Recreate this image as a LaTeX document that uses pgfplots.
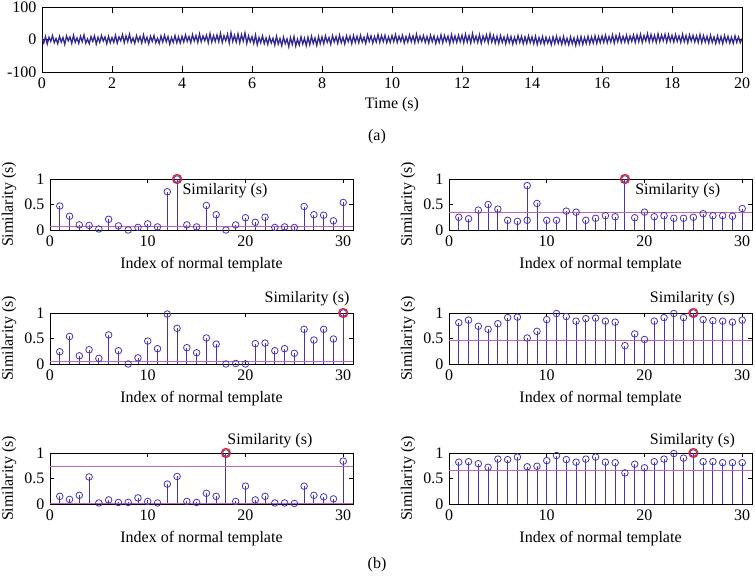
\documentclass[border=0pt]{standalone}
\usepackage{pgfplots}
\pgfplotsset{compat=1.18}
\usepackage{pgfplotstable}
\usepackage{fontspec}
\setmainfont{Liberation Serif}

\definecolor{sig}{RGB}{50,40,145}
\definecolor{stemc}{RGB}{72,52,178}
\definecolor{thr}{RGB}{192,100,192}
\definecolor{maxc}{RGB}{215,40,45}

% similarity of each normal template, one column per panel
% a,b: first row; c,d: second row; e,f: third row
\pgfplotstableread{
i a b c d e f
1 0.47 0.25 0.24 0.81 0.15 0.82
2 0.27 0.22 0.54 0.86 0.09 0.83
3 0.10 0.39 0.16 0.74 0.17 0.79
4 0.09 0.50 0.28 0.68 0.53 0.72
5 0.02 0.41 0.11 0.79 0.02 0.88
6 0.21 0.19 0.57 0.91 0.08 0.87
7 0.08 0.17 0.26 0.92 0.03 0.92
8 0.00 0.87 0.00 0.51 0.03 0.73
9 0.05 0.52 0.12 0.64 0.12 0.74
10 0.12 0.19 0.45 0.87 0.05 0.85
11 0.06 0.19 0.30 0.99 0.02 0.95
12 0.75 0.37 0.98 0.93 0.39 0.87
13 1.00 0.35 0.70 0.84 0.54 0.82
14 0.10 0.19 0.32 0.89 0.05 0.88
15 0.06 0.23 0.22 0.90 0.03 0.92
16 0.48 0.28 0.51 0.84 0.21 0.82
17 0.30 0.26 0.39 0.82 0.15 0.81
18 0.00 1.00 0.00 0.36 1.00 0.61
19 0.10 0.24 0.01 0.59 0.05 0.78
20 0.24 0.35 0.00 0.48 0.35 0.71
21 0.15 0.26 0.40 0.84 0.08 0.83
22 0.25 0.28 0.41 0.91 0.15 0.88
23 0.05 0.23 0.26 0.99 0.02 0.99
24 0.06 0.23 0.30 0.91 0.02 0.90
25 0.05 0.25 0.21 1.00 0.01 1.00
26 0.46 0.32 0.68 0.87 0.35 0.83
27 0.30 0.28 0.47 0.85 0.17 0.83
28 0.29 0.28 0.68 0.84 0.14 0.81
29 0.18 0.27 0.49 0.82 0.10 0.81
30 0.54 0.42 1.00 0.86 0.84 0.81
}\simtab

\pgfplotsset{
  mat/.style={
    scale only axis,
    tick align=inside,
    major tick length=4pt,
    axis line style={line width=0.6pt},
    tick style={line width=0.5pt, black},
    clip=false,
    /pgf/number format/assume math mode=true,
    label style={font=\fontsize{16}{19}\selectfont},
    tick label style={font=\fontsize{16}{19}\selectfont},
  },
  stemax/.style={
    mat,
    width=303pt, height=51pt,
    xmin=0, xmax=31, ymin=0, ymax=1,
    xtick={0,10,20,30}, ytick={0,0.5,1},
    xlabel={Index of normal template},
    ylabel={Similarity (s)},
    xlabel style={at={(axis description cs:0.5,-0.67)}, anchor=center},
    ylabel style={at={(axis description cs:-0.135,0.5)}, anchor=center},
  },
  stems/.style={
    draw=stemc, ycomb, line width=0.9pt,
    mark=o, mark size=3.3pt, mark options={draw=stemc, line width=0.8pt},
  },
  best/.style={
    only marks, mark=o, mark size=4.5pt,
    mark options={draw=maxc, line width=1.3pt},
  },
  thrline/.style={draw=thr, line width=0.9pt},
}

\begin{document}
\fontsize{16}{19}\selectfont
\begin{tikzpicture}
\useasboundingbox (0,0) rectangle (755pt,581pt);

% (a) signal
\begin{axis}[
  mat,
  at={(42pt,509pt)}, anchor=south west,
  width=700pt, height=65pt,
  xmin=0, xmax=20, ymin=-100, ymax=100,
  xtick={0,2,...,20}, ytick={-100,0,100},
  major tick length=6pt,
  xlabel={Time (s)},
  xlabel style={at={(axis description cs:0.5,-0.5)}, anchor=center},
  clip=true,
]
\addplot[sig, line width=1.3pt] coordinates {
(0,4)(0.05,-11)(0.1,9)(0.15,-14)(0.2,7)(0.25,-6)(0.3,12)(0.35,-10)(0.4,3)(0.45,-13)(0.5,10)(0.55,-8)(0.6,6)(0.65,-15)(0.7,11)(0.75,-4)(0.8,8)(0.85,-12)(0.9,13)(0.95,-9)
(1,5)(1.05,-12)(1.1,10)(1.15,-7)(1.2,14)(1.25,-11)(1.3,2)(1.35,-13)(1.4,9)(1.45,-6)(1.5,11)(1.55,-14)(1.6,7)(1.65,-9)(1.7,12)(1.75,-5)(1.8,8)(1.85,-13)(1.9,10)(1.95,-10)
(2,6)(2.05,-9)(2.1,13)(2.15,-11)(2.2,8)(2.25,-4)(2.3,15)(2.35,-10)(2.4,11)(2.45,-7)(2.5,16)(2.55,-9)(2.6,5)(2.65,-12)(2.7,12)(2.75,-6)(2.8,9)(2.85,-11)(2.9,14)(2.95,-8)
(3,7)(3.05,-13)(3.1,10)(3.15,-6)(3.2,12)(3.25,-10)(3.3,4)(3.35,-12)(3.4,11)(3.45,-8)(3.5,13)(3.55,-7)(3.6,9)(3.65,-14)(3.7,6)(3.75,-9)(3.8,12)(3.85,-10)(3.9,8)(3.95,-11)
(4,10)(4.05,-8)(4.1,14)(4.15,-6)(4.2,9)(4.25,-10)(4.3,15)(4.35,-5)(4.4,12)(4.45,-9)(4.5,17)(4.55,-7)(4.6,11)(4.65,-4)(4.7,13)(4.75,-10)(4.8,18)(4.85,-8)(4.9,12)(4.95,-6)
(5,14)(5.05,-7)(5.1,19)(5.15,-9)(5.2,12)(5.25,-4)(5.3,16)(5.35,-11)(5.4,21)(5.45,-6)(5.5,13)(5.55,-8)(5.6,17)(5.65,-10)(5.7,15)(5.75,-5)(5.8,20)(5.85,-12)(5.9,11)(5.95,-7)
(6,9)(6.05,-12)(6.1,14)(6.15,-16)(6.2,6)(6.25,-10)(6.3,11)(6.35,-13)(6.4,5)(6.45,-15)(6.5,8)(6.55,-11)(6.6,4)(6.65,-17)(6.7,10)(6.75,-14)(6.8,3)(6.85,-19)(6.9,7)(6.95,-13)
(7,2)(7.05,-22)(7.1,6)(7.15,-15)(7.2,9)(7.25,-20)(7.3,1)(7.35,-17)(7.4,8)(7.45,-14)(7.5,4)(7.55,-19)(7.6,7)(7.65,-16)(7.7,10)(7.75,-12)(7.8,5)(7.85,-18)(7.9,9)(7.95,-13)
(8,8)(8.05,-13)(8.1,11)(8.15,-9)(8.2,6)(8.25,-15)(8.3,12)(8.35,-8)(8.4,9)(8.45,-12)(8.5,13)(8.55,-10)(8.6,7)(8.65,-14)(8.7,11)(8.75,-7)(8.8,10)(8.85,-13)(8.9,12)(8.95,-9)
(9,10)(9.05,-10)(9.1,13)(9.15,-8)(9.2,7)(9.25,-12)(9.3,14)(9.35,-6)(9.4,11)(9.45,-11)(9.5,9)(9.55,-8)(9.6,15)(9.65,-9)(9.7,12)(9.75,-7)(9.8,13)(9.85,-10)(9.9,8)(9.95,-9)
(10,12)(10.05,-7)(10.1,15)(10.15,-9)(10.2,10)(10.25,-6)(10.3,13)(10.35,-11)(10.4,9)(10.45,-8)(10.5,14)(10.55,-7)(10.6,11)(10.65,-10)(10.7,16)(10.75,-8)(10.8,10)(10.85,-6)(10.9,12)(10.95,-9)
(11,9)(11.05,-11)(11.1,13)(11.15,-7)(11.2,11)(11.25,-12)(11.3,8)(11.35,-9)(11.4,14)(11.45,-10)(11.5,12)(11.55,-6)(11.6,10)(11.65,-13)(11.7,15)(11.75,-8)(11.8,11)(11.85,-9)(11.9,13)(11.95,-7)
(12,13)(12.05,-10)(12.1,16)(12.15,-8)(12.2,12)(12.25,-11)(12.3,18)(12.35,-7)(12.4,10)(12.45,-9)(12.5,15)(12.55,-12)(12.6,11)(12.65,-6)(12.7,14)(12.75,-10)(12.8,17)(12.85,-8)(12.9,12)(12.95,-11)
(13,10)(13.05,-12)(13.1,12)(13.15,-9)(13.2,8)(13.25,-13)(13.3,11)(13.35,-10)(13.4,9)(13.45,-14)(13.5,7)(13.55,-11)(13.6,12)(13.65,-9)(13.7,10)(13.75,-13)(13.8,8)(13.85,-12)(13.9,11)(13.95,-10)
(14,8)(14.05,-13)(14.1,10)(14.15,-15)(14.2,6)(14.25,-12)(14.3,9)(14.35,-14)(14.4,7)(14.45,-11)(14.5,5)(14.55,-16)(14.6,8)(14.65,-13)(14.7,10)(14.75,-12)(14.8,6)(14.85,-15)(14.9,9)(14.95,-14)
(15,4)(15.05,-16)(15.1,8)(15.15,-13)(15.2,5)(15.25,-18)(15.3,7)(15.35,-14)(15.4,9)(15.45,-15)(15.5,6)(15.55,-12)(15.6,10)(15.65,-13)(15.7,8)(15.75,-11)(15.8,11)(15.85,-12)(15.9,9)(15.95,-10)
(16,11)(16.05,-9)(16.1,13)(16.15,-10)(16.2,9)(16.25,-8)(16.3,14)(16.35,-11)(16.4,12)(16.45,-7)(16.5,15)(16.55,-9)(16.6,10)(16.65,-8)(16.7,13)(16.75,-10)(16.8,11)(16.85,-6)(16.9,14)(16.95,-9)
(17,14)(17.05,-7)(17.1,16)(17.15,-9)(17.2,12)(17.25,-5)(17.3,18)(17.35,-8)(17.4,15)(17.45,-6)(17.5,13)(17.55,-9)(17.6,17)(17.65,-7)(17.7,14)(17.75,-4)(17.8,16)(17.85,-8)(17.9,15)(17.95,-6)
(18,13)(18.05,-8)(18.1,15)(18.15,-6)(18.2,11)(18.25,-9)(18.3,16)(18.35,-7)(18.4,12)(18.45,-10)(18.5,14)(18.55,-5)(18.6,13)(18.65,-8)(18.7,11)(18.75,-9)(18.8,15)(18.85,-10)(18.9,12)(18.95,-8)
(19,10)(19.05,-11)(19.1,13)(19.15,-9)(19.2,8)(19.25,-12)(19.3,11)(19.35,-10)(19.4,9)(19.45,-13)(19.5,12)(19.55,-8)(19.6,10)(19.65,-11)(19.7,7)(19.75,-12)(19.8,11)(19.85,-9)(19.9,8)(19.95,-10)(20,3)
};
\end{axis}

% (b) row 1
\begin{axis}[stemax, at={(50pt,351pt)}, anchor=south west]
\addplot[stems] table[x=i, y=a] {\simtab};
\addplot[thrline, line width=1.6pt] coordinates {(0,0.065)(31,0.065)};
\addplot[best] coordinates {(13,1)};
\node at (axis cs:17.9,0.77) {Similarity (s)};
\end{axis}

\begin{axis}[stemax, at={(449pt,351pt)}, anchor=south west]
\addplot[stems] table[x=i, y=b] {\simtab};
\addplot[stems] coordinates {(8,0.19)};
\addplot[thrline] coordinates {(0,0.34)(31,0.34)};
\addplot[best] coordinates {(18,1)};
\node at (axis cs:23.4,0.77) {Similarity (s)};
\end{axis}

% (b) row 2
\begin{axis}[stemax, at={(50pt,217pt)}, anchor=south west]
\addplot[stems] table[x=i, y=c] {\simtab};
\addplot[thrline, line width=1.6pt] coordinates {(0,0.05)(31,0.05)};
\addplot[best] coordinates {(30,1)};
\node at (axis cs:26.3,1.29) {Similarity (s)};
\end{axis}

\begin{axis}[stemax, at={(449pt,217pt)}, anchor=south west]
\addplot[stems] table[x=i, y=d] {\simtab};
\addplot[thrline] coordinates {(0,0.47)(31,0.47)};
\addplot[best] coordinates {(25,1)};
\node at (axis cs:24.9,1.29) {Similarity (s)};
\end{axis}

% (b) row 3
\begin{axis}[stemax, at={(50pt,77pt)}, anchor=south west]
\addplot[stems] table[x=i, y=e] {\simtab};
\addplot[thrline] coordinates {(0,0.73)(31,0.73)};
\addplot[thrline] coordinates {(0,0.015)(31,0.015)};
\addplot[best] coordinates {(18,1)};
\node at (axis cs:22.5,1.25) {Similarity (s)};
\end{axis}

\begin{axis}[stemax, at={(449pt,77pt)}, anchor=south west]
\addplot[stems] table[x=i, y=f] {\simtab};
\addplot[thrline] coordinates {(0,0.65)(31,0.65)};
\addplot[best] coordinates {(25,1)};
\node at (axis cs:24.9,1.25) {Similarity (s)};
\end{axis}

\node at (377pt,444pt) {(a)};
\node at (377pt,16pt) {(b)};
\end{tikzpicture}
\end{document}
